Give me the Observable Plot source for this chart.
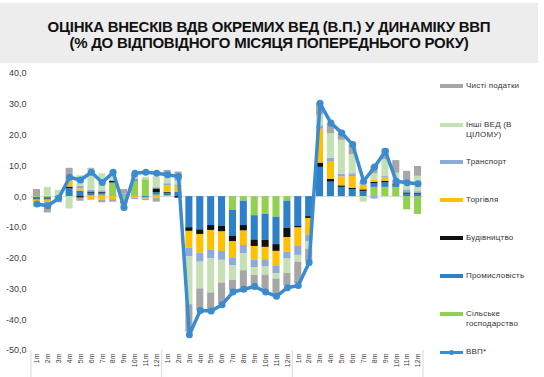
<!DOCTYPE html>
<html>
<head>
<meta charset="utf-8">
<script src="https://cdn.jsdelivr.net/npm/d3@7"></script>
<script src="https://cdn.jsdelivr.net/npm/@observablehq/plot@0.6"></script>
<style>
  html, body { margin: 0; padding: 0; background: #fff; }
  #wrap { position: relative; width: 544px; height: 377px; overflow: hidden; font-family: "Liberation Sans", Arial, sans-serif; }
  #title { position: absolute; left: 0; top: 3px; width: 538px; height: 60px; background: #ededed;
           text-align: center; font-weight: bold; font-size: 15px; line-height: 16px; color: #111;
           box-sizing: border-box; padding-top: 16px; letter-spacing: -0.25px; }
  #chart { position: absolute; left: 0; top: 60px; }
  .leg { position: absolute; left: 440px; font-size: 8px; line-height: 10px; color: #333; letter-spacing: 0.2px; }
  .leg .sw { position: absolute; left: 0; width: 23px; height: 4px; }
  .leg .tx { position: absolute; left: 26px; width: 80px; }
</style>
</head>
<body>
<div id="wrap">
  <div id="title">ОЦІНКА ВНЕСКІВ ВДВ ОКРЕМИХ ВЕД (В.П.) У ДИНАМІКУ ВВП<br>(% ДО ВІДПОВІДНОГО МІСЯЦЯ ПОПЕРЕДНЬОГО РОКУ)</div>
  <div id="chart"></div>
  <div id="legend"></div>
</div>
<script>
// ---- data ----
const monthLabels = ["1m","2m","3m","4m","5m","6m","7m","8m","9m","10m","11m","12m",
                     "1m","2m","3m","4m","5m","6m","7m","8m","9m","10m","11m","12m",
                     "1m","2m","3m","4m","5m","6m","7m","8m","9m","10m","11m","12m"];
const seriesNames = ["Сільське господарство","Промисловість","Будівництво","Торгівля","Транспорт","Інші ВЕД (В ЦІЛОМУ)","Чисті податки"];
const seriesColors = ["#92d050","#2e80c8","#111111","#ffc000","#8eaadb","#c5e0b4","#a6a6a6"];
const gdpName = "ВВП*";
const gdpColor = "#3b8bd0";

const agri = [-0.3,-0.3,0,0,0,0.3,0.5,4.2,-1.8,5.0,5.5,0.5,
              0.3,0,0,0,0,0,-4.5,-1.5,-6.2,-5.8,-6.7,-1.5,
              0,0,0,0,0,0,0,3.0,3.0,3.0,-4.3,-5.8];
const industry = [-0.5,-0.5,-0.5,2.6,1.8,0.8,0.6,0.3,-0.5,0.5,-0.5,0.8,
                  0.8,1.5,-10.1,-10.8,-9.4,-9.7,-8.4,-7.9,-7.9,-8.4,-8.9,-8.8,
                  -9.7,-6.5,9.5,4.7,3.0,2.3,1.7,1.2,1.5,0.8,0.8,0.8];
const construction = [-0.3,-0.3,0,0.5,-0.5,0.4,0.3,0.5,0,0,0,1.2,
                      0.3,-0.5,-1.2,-1.5,-1.6,-1.8,-1.8,-1.8,-2.1,-2.3,-2.2,-3.0,
                      -0.5,-0.6,1.4,0.9,0.5,0.4,0.5,0.4,0.5,0.3,0.4,0.3];
const trade = [-0.6,-0.8,-0.4,2.0,0.7,-1.2,-1.2,-1.0,0,-0.6,-0.3,-0.5,
               2.0,1.7,-5.4,-6.1,-6.3,-6.3,-5.2,-4.7,-4.4,-4.0,-4.7,-4.8,
               -6.0,-5.5,11.0,5.8,2.9,3.8,1.6,0.8,1.0,0.5,0,0];
const transport = [-0.3,-0.4,-0.3,0.6,0.8,0.6,0.5,0.3,0.8,-0.3,0,0.4,
                   0.8,0.6,-2.9,-2.9,-2.9,-2.9,-2.6,-2.6,-2.5,-2.4,-2.5,-2.2,
                   -2.9,-2.0,1.1,1.1,0.9,0.9,0.6,-0.8,0.5,0.5,1.0,0.5];
const other = [-1.5,3.0,2.0,-4.0,3.5,6.8,5.5,3.0,-1.8,0.5,0.8,3.5,
               2.5,1.2,-15.5,-8.7,-11.1,-7.4,-4.7,-5.6,-2.5,-2.6,-1.8,-4.7,
               -2.2,-2.5,3.5,7.9,11.0,6.3,-1.8,2.0,5.5,2.5,2.0,5.0];
const taxes = [2.3,-3.0,-0.8,3.5,-1.0,0.3,-0.8,-0.8,1.5,1.3,-0.5,-1.3,
               1.8,3.0,-9.0,-7.0,-5.9,-6.9,-3.4,-5.9,-3.6,-5.2,-5.6,-4.0,
               -7.0,-4.0,3.8,3.2,2.3,2.9,0.3,2.5,3.5,4.1,4.0,3.2];
const gdp = [-2.4,-3.0,-0.5,6.3,5.4,7.9,4.6,7.9,-3.5,7.6,7.9,7.6,
             7.1,6.5,-44.9,-37.0,-37.2,-35.1,-31.0,-30.1,-29.2,-31.0,-32.4,-29.6,
             -28.9,-21.4,30.3,23.9,20.7,16.9,5.0,9.6,14.7,5.0,4.5,4.2];
const yTicks = [-50,-40,-30,-20,-10,0,10,20,30,40];

// ---- build tables ----
const keys = monthLabels.map((m, i) => String(i));
const seriesValues = [agri, industry, construction, trade, transport, other, taxes];
const barRows = [];
seriesNames.forEach((s, si) => {
  seriesValues[si].forEach((v, i) => barRows.push({key: keys[i], series: s, value: v}));
});
const lineRows = gdp.map((v, i) => ({key: keys[i], value: v}));

const plot = Plot.plot({
  width: 544,
  height: 317,
  marginTop: 13,
  marginBottom: 27,
  marginLeft: 31,
  marginRight: 121,
  style: {fontFamily: "'Liberation Sans', Arial, sans-serif", fontSize: "9px", color: "#404040", background: "transparent"},
  x: {domain: keys, paddingInner: 0.35, paddingOuter: 0.175, axis: null},
  y: {domain: [-50, 40], axis: null},
  color: {domain: seriesNames, range: seriesColors},
  marks: [
    Plot.axisY({ticks: yTicks, tickFormat: d => d.toFixed(1).replace(".", ","), tickSize: 0, tickPadding: 5, label: null, fontSize: 9, fill: "#404040"}),
    Plot.axisX({tickFormat: k => monthLabels[+k], tickRotate: -90, tickSize: 0, tickPadding: 3, label: null, fontSize: 7, fill: "#404040"}),
    Plot.ruleY([0], {stroke: "#d9d9d9", strokeWidth: 1}),
    Plot.barY(barRows, Plot.stackY({x: "key", y: "value", fill: "series", order: seriesNames})),
    Plot.line(lineRows, {x: "key", y: "value", stroke: gdpColor, strokeWidth: 3.5, strokeLinejoin: "round"}),
    Plot.dot(lineRows, {x: "key", y: "value", r: 3.5, fill: gdpColor})
  ]
});
document.getElementById("chart").appendChild(plot);

// multi-level category separators at year boundaries
const xs = plot.scale("x");
const step = xs.apply(keys[1]) - xs.apply(keys[0]);
const gap = step - xs.bandwidth;
const yB = 317 - 27;
const sepX = [0, 12, 24].map(i => xs.apply(keys[i]) - gap / 2).concat([xs.apply(keys[35]) + xs.bandwidth + gap / 2]);
d3.select(plot).append("g").selectAll("line").data(sepX).join("line")
  .attr("x1", d => d).attr("x2", d => d).attr("y1", yB).attr("y2", 317)
  .attr("stroke", "#d9d9d9").attr("stroke-width", 1);

// legend (top entry = last stacked series)
const legendItems = [
  {name: "Чисті податки", color: seriesColors[6], top: 86},
  {name: "Інші ВЕД (В<br>ЦІЛОМУ)", color: seriesColors[5], top: 125},
  {name: "Транспорт", color: seriesColors[4], top: 162},
  {name: "Торгівля", color: seriesColors[3], top: 200},
  {name: "Будівництво", color: seriesColors[2], top: 238},
  {name: "Промисловість", color: seriesColors[1], top: 276},
  {name: "Сільське<br>господарство", color: seriesColors[0], top: 314},
];
const leg = document.getElementById("legend");
legendItems.forEach(it => {
  const d = document.createElement("div");
  d.className = "leg";
  d.style.top = (it.top - 5) + "px";
  d.innerHTML = `<div class="sw" style="top:3px;background:${it.color}"></div><div class="tx">${it.name}</div>`;
  leg.appendChild(d);
});
const g = document.createElement("div");
g.className = "leg";
g.style.top = (352 - 5) + "px";
g.innerHTML = `<div class="sw" style="top:4px;height:3px;background:${gdpColor}"></div><div style="position:absolute;left:9px;top:3px;width:5px;height:5px;border-radius:50%;background:${gdpColor}"></div><div class="tx">${gdpName}</div>`;
leg.appendChild(g);
</script>
</body>
</html>
